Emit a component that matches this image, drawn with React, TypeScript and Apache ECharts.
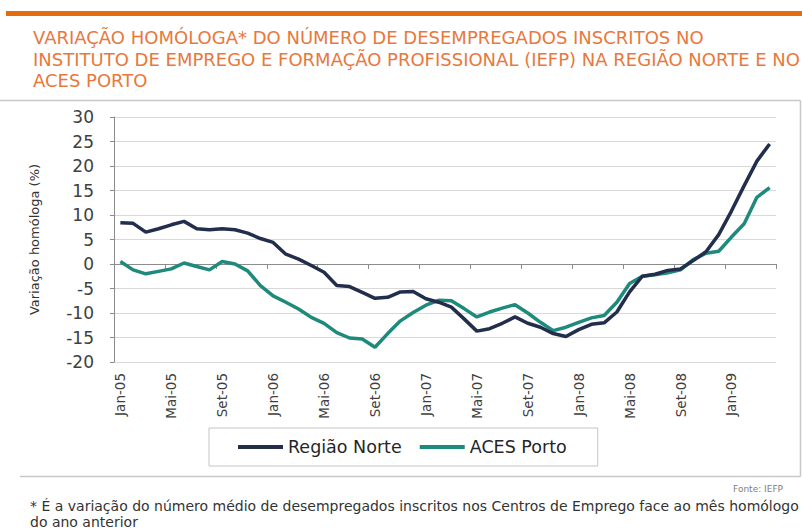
import React, { useEffect, useRef } from "react";
import * as echarts from "echarts";

const months = ["Jan", "Fev", "Mar", "Abr", "Mai", "Jun", "Jul", "Ago", "Set", "Out", "Nov", "Dez"];
const years = ["05", "06", "07", "08", "09"];
// Jan-05 .. Abr-09 (52 months)
const categories: string[] = [];
years.forEach((y) => months.forEach((m) => categories.push(`${m}-${y}`)));
categories.length = 52;

const regiaoNorte = [
  8.4, 8.3, 6.5, 7.2, 8.0, 8.7, 7.2, 7.0, 7.2, 7.0, 6.3, 5.2,
  4.4, 2.0, 1.0, -0.3, -1.7, -4.4, -4.6, -5.8, -7.0, -6.8, -5.7, -5.6,
  -7.1, -7.8, -8.8, -11.2, -13.7, -13.2, -12.1, -10.8, -12.1, -12.9, -14.2, -14.8,
  -13.4, -12.3, -12.0, -9.8, -5.7, -2.5, -2.1, -1.3, -1.0, 0.7, 2.5, 6.0,
  10.8, 16.0, 21.0, 24.5,
];

const acesPorto = [
  0.5, -1.2, -2.0, -1.5, -1.0, 0.2, -0.5, -1.2, 0.5, 0.0, -1.4, -4.4,
  -6.5, -7.8, -9.2, -10.9, -12.1, -14.0, -15.1, -15.3, -17.0, -14.2, -11.6, -9.9,
  -8.4, -7.4, -7.5, -9.1, -10.8, -9.8, -9.0, -8.3, -10.0, -11.9, -13.6, -12.9,
  -11.9, -11.0, -10.5, -7.8, -4.0, -2.5, -2.2, -1.8, -1.2, 0.9, 2.2, 2.6,
  5.5, 8.2, 13.6, 15.6,
];

const seriesNames = ["Região Norte", "ACES Porto"];
const seriesColors = ["#222E4C", "#1E8A7B"];

const titleText =
  "VARIAÇÃO HOMÓLOGA* DO NÚMERO DE DESEMPREGADOS INSCRITOS NO\nINSTITUTO DE EMPREGO E FORMAÇÃO PROFISSIONAL (IEFP) NA REGIÃO NORTE E NO\nACES PORTO";
const yAxisName = "Variação homóloga (%)";
const sourceText = "Fonte: IEFP";
const footnoteText =
  "* É a variação do número médio de desempregados inscritos nos Centros de Emprego face ao mês homólogo\ndo ano anterior";

const FONT = "'DejaVu Sans', 'Open Sans', sans-serif";

export default function App() {
  const ref = useRef<HTMLDivElement>(null);

  useEffect(() => {
    if (!ref.current) return;
    const chart = echarts.init(ref.current, undefined, { renderer: "svg" });
    chart.setOption({
      animation: false,
      backgroundColor: "#ffffff",
      textStyle: { fontFamily: FONT },
      title: {
        text: titleText,
        left: 33,
        top: 27,
        padding: 0,
        textStyle: {
          fontFamily: FONT,
          fontSize: 18,
          fontWeight: "normal",
          color: "#E8783C",
          lineHeight: 21.5,
        },
      },
      legend: {
        data: seriesNames,
        left: 209,
        top: 428,
        icon: "rect",
        itemWidth: 45,
        itemHeight: 4,
        itemGap: 18,
        padding: [10, 31, 10, 29],
        borderColor: "#C4C4C4",
        borderWidth: 1,
        textStyle: { fontFamily: FONT, fontSize: 17.5, color: "#262626" },
      },
      grid: { left: 114, right: 26, top: 117, bottom: 169, containLabel: false },
      xAxis: [
        {
          type: "category",
          data: categories,
          position: "bottom",
          boundaryGap: true,
          axisLine: { show: true, onZero: true, lineStyle: { color: "#8C8C8C", width: 1 } },
          axisTick: { show: true, interval: 3, length: 5, lineStyle: { color: "#8C8C8C" } },
          axisLabel: { show: false },
          splitLine: { show: false },
        },
        {
          type: "category",
          data: categories,
          position: "bottom",
          boundaryGap: true,
          axisLine: { show: false, onZero: false },
          axisTick: { show: false },
          axisLabel: {
            interval: 3,
            rotate: 90,
            margin: 11,
            fontFamily: FONT,
            fontSize: 13.5,
            color: "#404040",
          },
          splitLine: { show: false },
        },
      ],
      yAxis: {
        type: "value",
        min: -20,
        max: 30,
        interval: 5,
        name: yAxisName,
        nameLocation: "middle",
        nameRotate: 90,
        nameGap: 73,
        nameTextStyle: { fontFamily: FONT, fontSize: 13, color: "#333333" },
        axisLine: { show: true, lineStyle: { color: "#8C8C8C", width: 1 } },
        axisTick: { show: true, length: 4, lineStyle: { color: "#8C8C8C" } },
        axisLabel: { fontFamily: FONT, fontSize: 17, color: "#404040", margin: 20 },
        splitLine: { show: true, lineStyle: { color: "#D9D9D9", width: 1 } },
      },
      series: [
        {
          name: seriesNames[0],
          type: "line",
          data: regiaoNorte,
          xAxisIndex: 0,
          symbol: "none",
          lineStyle: { color: seriesColors[0], width: 3.5 },
          itemStyle: { color: seriesColors[0] },
          z: 3,
        },
        {
          name: seriesNames[1],
          type: "line",
          data: acesPorto,
          xAxisIndex: 0,
          symbol: "none",
          lineStyle: { color: seriesColors[1], width: 3.5 },
          itemStyle: { color: seriesColors[1] },
          z: 2,
        },
      ],
      graphic: [
        {
          type: "rect",
          shape: { x: 6, y: 11, width: 796, height: 5 },
          style: { fill: "#E46C0A" },
          silent: true,
        },
        {
          type: "line",
          shape: { x1: 0, y1: 100.5, x2: 800.5, y2: 100.5 },
          style: { stroke: "#C8C8C8", lineWidth: 1.5 },
          silent: true,
        },
        {
          type: "line",
          shape: { x1: 800.5, y1: 100.5, x2: 800.5, y2: 476.5 },
          style: { stroke: "#C8C8C8", lineWidth: 1.5 },
          silent: true,
        },
        {
          type: "line",
          shape: { x1: 20, y1: 476.5, x2: 800.5, y2: 476.5 },
          style: { stroke: "#C8C8C8", lineWidth: 1.5 },
          silent: true,
        },
        {
          type: "text",
          right: 19,
          top: 484,
          style: {
            text: sourceText,
            fontFamily: FONT,
            fontSize: 9,
            fill: "#808080",
          },
          silent: true,
        },
        {
          type: "text",
          left: 30,
          top: 497.5,
          style: {
            text: footnoteText,
            fontFamily: FONT,
            fontSize: 14,
            lineHeight: 16.5,
            fill: "#333333",
          },
          silent: true,
        },
      ],
    });
    return () => chart.dispose();
  }, []);

  return (
    <div
      ref={ref}
      style={{ position: "absolute", left: 0, top: 0, width: 802, height: 531 }}
    />
  );
}
